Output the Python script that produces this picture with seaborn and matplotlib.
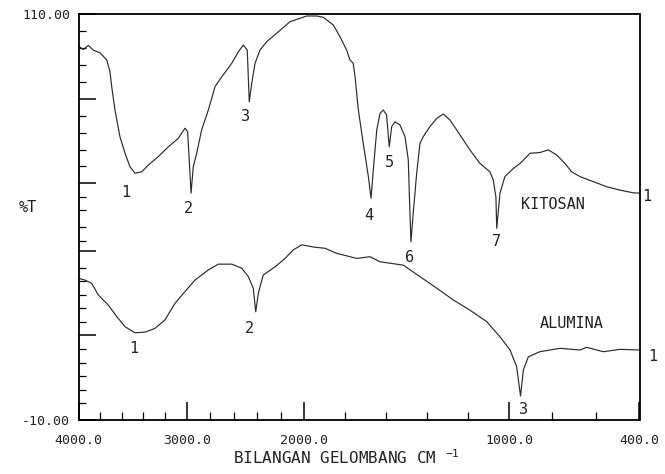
import numpy as np
import pandas as pd
import matplotlib
matplotlib.use("Agg")
import matplotlib.pyplot as plt
import seaborn as sns

# ---------------- data ----------------
kitosan_wn = [4000, 3956, 3909, 3863, 3801, 3739, 3709, 3693, 3663, 3617, 3570, 3524, 3478, 3416,
              3355, 3263, 3170, 3078, 3016, 2992, 2980, 2963, 2944, 2915, 2873, 2816, 2759, 2702,
              2617, 2561, 2519, 2485, 2468, 2447, 2419, 2377, 2320, 2235, 2122, 1988, 1939, 1907,
              1858, 1826, 1793, 1777, 1761, 1752, 1736, 1712, 1687, 1674, 1663, 1646, 1630, 1614,
              1598, 1585, 1573, 1557, 1533, 1508, 1492, 1486, 1479, 1468, 1451, 1435, 1419, 1386,
              1353, 1321, 1288, 1239, 1191, 1142, 1093, 1077, 1064, 1060, 1044, 1020, 980, 949,
              903, 858, 819, 781, 743, 712, 674, 612, 551, 490, 429, 400]
kitosan_t = [100.6, 99.6, 100.8, 99.4, 98.6, 96.5, 93.0, 88.6, 81.7, 73.8, 68.9, 64.9, 63.0, 63.4,
             65.4, 67.9, 70.8, 73.3, 76.3, 75.3, 67.9, 57.1, 64.9, 68.9, 75.8, 81.7, 88.6, 91.5,
             95.5, 98.9, 100.9, 99.4, 84.1, 89.6, 95.5, 99.4, 101.9, 104.4, 107.8, 109.5, 109.5, 109.1,
             106.8, 103.4, 99.4, 96.5, 95.5, 91.5, 81.7, 71.8, 62.0, 55.6, 63.9, 75.8, 80.7, 81.7,
             80.2, 70.8, 76.8, 78.2, 77.3, 73.8, 66.9, 55.1, 42.7, 51.1, 63.0, 71.8, 73.8, 76.8,
             79.2, 80.5, 78.7, 74.3, 69.9, 65.9, 63.4, 61.0, 56.0, 46.7, 57.1, 62.0, 64.4, 65.9,
             68.9, 69.1, 69.9, 68.4, 65.9, 63.4, 62.0, 60.5, 59.0, 58.0, 57.2, 57.1]

alumina_wn = [4000, 3940, 3878, 3817, 3725, 3647, 3570, 3478, 3385, 3293, 3201, 3108, 3016, 2929,
              2816, 2731, 2617, 2532, 2476, 2434, 2413, 2391, 2349, 2249, 2164, 2094, 2022, 1948,
              1899, 1842, 1744, 1679, 1630, 1516, 1435, 1353, 1272, 1191, 1109, 1044, 995, 965,
              947, 934, 911, 858, 766, 674, 643, 566, 490, 400]
alumina_t = [31.9, 31.4, 30.4, 27.0, 24.0, 20.6, 17.6, 15.8, 16.0, 17.1, 19.6, 24.5, 28.0, 31.4,
             34.4, 36.1, 36.1, 34.9, 32.4, 29.0, 22.0, 27.5, 32.9, 35.3, 37.8, 40.3, 41.8, 41.1,
             40.8, 39.3, 37.8, 38.3, 36.8, 35.8, 32.4, 29.0, 25.5, 22.5, 19.1, 14.6, 10.7, 5.8,
             -2.9, 4.8, 8.7, 10.2, 11.2, 10.7, 11.5, 10.2, 10.9, 10.7]

kitosan_peaks = ["1", "2", "3", "4", "5", "6", "7"]
kitosan_peak_wn = [3561, 2983, 2496, 1684, 1585, 1488, 1063]
kitosan_peak_t = [57.2, 52.6, 79.7, 50.6, 66.2, 38.1, 42.7]

alumina_peaks = ["1", "2", "3"]
alumina_peak_wn = [3491, 2467, 932]
alumina_peak_t = [11.2, 17.1, -7.0]

series_names = ["KITOSAN", "ALUMINA"]
series_name_wn = [796, 712]
series_name_t = [53.6, 18.4]
series_end_wn = [367, 338]
series_end_t = [56.0, 8.9]

x_tick_values = [4000, 3000, 2000, 1000, 400]
x_tick_labels = ["4000.0", "3000.0", "2000.0", "1000.0", "400.0"]
x_minor_values = [3800, 3600, 3400, 3200, 2800, 2600, 2400, 2200, 1800, 1600, 1400, 1200, 800, 600]
y_major_values = [-10, 15, 40, 60, 85, 110]
y_major_labels = ["-10.00", "", "", "", "", "110.00"]
y_minor_values = [105, 100, 95, 90, 80, 75, 70, 65, 56, 52, 47, 43, 35, 31, 27, 23, 19,
                  11, 7, 3, -1, -5]

# ---------------- figure ----------------
sns.set_theme(style="white")
plt.rcParams["font.family"] = ["DejaVu Sans Mono", "DejaVu Sans"]
plt.rcParams["mathtext.default"] = "regular"

fig = plt.figure(figsize=(6.65, 4.74), dpi=100)
ax = fig.add_axes([78.5 / 665, 1 - 420 / 474, (639.5 - 78.5) / 665, (420 - 14.3) / 474])

df_k = pd.DataFrame({"wn": kitosan_wn, "T": kitosan_t})
df_a = pd.DataFrame({"wn": alumina_wn, "T": alumina_t})
sns.lineplot(data=df_k, x="wn", y="T", ax=ax, color="#2a2a2a", lw=0.85, estimator=None, sort=False)
sns.lineplot(data=df_a, x="wn", y="T", ax=ax, color="#2a2a2a", lw=0.85, estimator=None, sort=False)

# piecewise-linear wavenumber scale (4000-2000 compressed, like the IR chart)
WN_BR = np.array([400.0, 1000.0, 2000.0, 3000.0, 4000.0])
U_BR = np.array([0.0, 130.5, 335.2, 452.8, 561.0])


def _pw(x, xs, ys):
    x = np.asarray(x, dtype=float)
    y = np.interp(x, xs, ys)
    s_lo = (ys[1] - ys[0]) / (xs[1] - xs[0])
    s_hi = (ys[-1] - ys[-2]) / (xs[-1] - xs[-2])
    y = np.where(x < xs[0], ys[0] + (x - xs[0]) * s_lo, y)
    y = np.where(x > xs[-1], ys[-1] + (x - xs[-1]) * s_hi, y)
    return y


def fwd(x):
    return _pw(x, WN_BR, U_BR)


def inv(u):
    return _pw(u, U_BR, WN_BR)


ax.set_xscale("function", functions=(fwd, inv))
ax.set_xlim(4000, 400)
ax.set_ylim(-10, 110)

ax.set_xticks(x_tick_values)
ax.set_xticklabels(x_tick_labels)
ax.set_xticks(x_minor_values, minor=True)
ax.set_yticks(y_major_values)
ax.set_yticklabels(y_major_labels)
ax.set_yticks(y_minor_values, minor=True)

ax.tick_params(axis="x", which="major", direction="in", length=13, width=1.1, colors="black",
               labelsize=9.5, pad=10, bottom=True, top=False)
ax.tick_params(axis="x", which="minor", direction="in", length=6, width=0.9, colors="black",
               bottom=True, top=False)
ax.tick_params(axis="y", which="major", direction="in", length=12, width=1.1, colors="black",
               labelsize=9.5, pad=6, left=True, right=False)
ax.tick_params(axis="y", which="minor", direction="in", length=5, width=0.9, colors="black",
               left=True, right=False)
for lab in ax.get_xticklabels() + ax.get_yticklabels():
    lab.set_color("#222222")

for sp in ax.spines.values():
    sp.set_visible(True)
    sp.set_color("black")
    sp.set_linewidth(1.3)

ax.set_xlabel("")
ax.set_ylabel("")

txt_kw = dict(ha="center", va="center", fontsize=11, color="#222222")
for lab, w, t in zip(kitosan_peaks, kitosan_peak_wn, kitosan_peak_t):
    ax.text(w, t, lab, **txt_kw)
for lab, w, t in zip(alumina_peaks, alumina_peak_wn, alumina_peak_t):
    ax.text(w, t, lab, **txt_kw)
for name, w, t in zip(series_names, series_name_wn, series_name_t):
    ax.text(w, t, name, **txt_kw)
for w, t in zip(series_end_wn, series_end_t):
    ax.text(w, t, "1", clip_on=False, **txt_kw)

fig.text(28 / 665, 1 - 208 / 474, "%T", ha="center", va="center", fontsize=11, color="#222222")
fig.text(346 / 665, 1 - 458 / 474, r"BILANGAN GELOMBANG CM $^{-1}$", ha="center", va="center",
         fontsize=11.5, color="#222222")

fig.savefig("out.png", dpi=100, facecolor="white")
